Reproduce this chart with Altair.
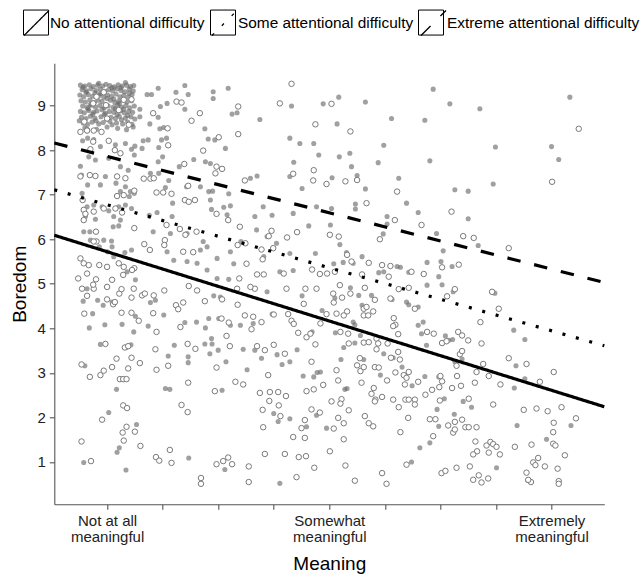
import altair as alt
import pandas as pd

# ---------------- data ----------------
groups = ["No attentional difficulty", "Some attentional difficulty", "Extreme attentional difficulty"]
box_keys = ["box1", "box2", "box3"]
line_x = [0.05, 9.95]
line_y_none = [6.09, 2.24]
line_y_some = [7.11, 3.61]
line_y_extreme = [8.16, 5.03]

x_ticks = [1, 2, 3, 4, 5, 6, 7, 8, 9]
x_tick_labels = {1: ["Not at all", "meaningful"], 5: ["Somewhat", "meaningful"], 9: ["Extremely", "meaningful"]}
y_ticks = [1, 2, 3, 4, 5, 6, 7, 8, 9]

# filled (grey dots)
filled_cluster = [
    (0.52, 9.46), (0.60, 9.44), (0.68, 9.47), (0.75, 9.43), (0.83, 9.46), (0.92, 9.44), (0.98, 9.48), (1.05, 9.45),
    (1.13, 9.42), (1.20, 9.47), (1.27, 9.44), (1.35, 9.46), (1.42, 9.43), (1.48, 9.45),
    (0.55, 9.36), (0.63, 9.33), (0.71, 9.38), (0.80, 9.34), (0.88, 9.37), (0.96, 9.32), (1.03, 9.36), (1.10, 9.33),
    (1.18, 9.38), (1.25, 9.34), (1.32, 9.31), (1.40, 9.37), (1.47, 9.33),
    (0.51, 9.24), (0.58, 9.20), (0.66, 9.25), (0.74, 9.21), (0.86, 9.23), (0.94, 9.19), (1.01, 9.24), (1.08, 9.21),
    (1.16, 9.26), (1.23, 9.20), (1.30, 9.23), (1.38, 9.19), (1.45, 9.25),
    (0.53, 9.11), (0.61, 9.08), (0.69, 9.13), (0.77, 9.07), (0.84, 9.12), (0.91, 9.09), (1.06, 9.12), (1.14, 9.07),
    (1.21, 9.10), (1.29, 9.13), (1.36, 9.08), (1.44, 9.11),
    (0.56, 8.99), (0.64, 8.96), (0.72, 9.01), (0.79, 8.97), (0.87, 9.00), (0.95, 8.95), (1.02, 8.99), (1.11, 8.96),
    (1.19, 9.01), (1.26, 8.97), (1.34, 9.00), (1.41, 8.95), (1.49, 8.99),
    (0.52, 8.87), (0.59, 8.84), (0.67, 8.89), (0.76, 8.85), (0.82, 8.88), (0.97, 8.83), (1.04, 8.87), (1.12, 8.85),
    (1.24, 8.88), (1.31, 8.84), (1.39, 8.87), (1.46, 8.85),
    (0.54, 8.74), (0.62, 8.71), (0.70, 8.76), (0.78, 8.72), (0.89, 8.75), (0.99, 8.70), (1.07, 8.74), (1.15, 8.71),
    (1.22, 8.76), (1.33, 8.72), (1.43, 8.75),
    (0.57, 8.61), (0.65, 8.58), (0.73, 8.63), (0.85, 8.59), (0.93, 8.62), (1.09, 8.57), (1.17, 8.61), (1.28, 8.59),
    (1.37, 8.63), (1.45, 8.58),
    (0.60, 8.50), (0.81, 8.47), (1.00, 8.52), (1.19, 8.49), (1.35, 8.46), (1.47, 8.52),
    (0.88, 9.27), (1.12, 9.15), (0.70, 9.03), (1.30, 8.92), (0.95, 8.80), (1.40, 9.28), (0.62, 9.30), (1.18, 8.80),
    (0.80, 8.66), (1.25, 9.40), (1.59, 8.92),
    (0.57, 9.41), (0.78, 9.29), (1.00, 9.16), (1.22, 9.05), (0.66, 8.93), (0.91, 8.91), (1.15, 8.93), (1.37, 8.78),
    (0.74, 8.81), (1.05, 8.65), (1.26, 8.68), (0.50, 8.66), (1.50, 8.70), (1.09, 9.40), (0.85, 9.50), (1.33, 9.52),
]
filled_upper = [
    (1.72, 9.25), (1.80, 9.25), (1.92, 9.39), (2.40, 9.45), (2.24, 9.30), (2.46, 9.25), (2.91, 9.31), (2.91, 9.16),
    (3.18, 9.39), (1.96, 8.98), (2.08, 9.05), (2.40, 8.92), (3.25, 8.81), (3.34, 8.84), (3.75, 8.69), (4.32, 8.99),
    (4.89, 9.04), (1.59, 8.75), (1.92, 8.74), (1.77, 8.59), (2.02, 8.51), (1.95, 8.48), (2.76, 8.48), (2.82, 8.25),
    (2.94, 8.23), (3.13, 8.04), (4.29, 8.27), (4.47, 8.15), (4.72, 8.15), (4.81, 7.89), (4.36, 7.73), (1.65, 8.21),
    (1.74, 8.23), (1.98, 8.23), (2.07, 8.27), (1.93, 8.06), (1.50, 8.09), (1.63, 8.04), (1.49, 7.89), (1.92, 7.74),
    (2.00, 7.85), (2.30, 7.63), (2.56, 7.79), (2.77, 7.74), (2.86, 7.70), (1.78, 7.48), (1.93, 7.48), (2.11, 7.32),
    (2.05, 7.16), (2.43, 7.18), (2.68, 7.18), (2.83, 7.07), (2.90, 7.08), (3.19, 7.02), (3.58, 7.37), (3.70, 7.42),
    (3.81, 6.73), (3.97, 6.54), (4.35, 6.58), (4.51, 7.14), (4.29, 7.41), (4.77, 6.73), (4.63, 6.30), (2.86, 6.88),
    (2.88, 6.67), (3.10, 6.72), (3.22, 6.75), (3.16, 6.55), (3.66, 6.51), (1.90, 6.60), (2.18, 6.81), (2.17, 6.51),
    (1.76, 6.54), (1.21, 6.30), (1.11, 6.28), (1.83, 6.17), (2.14, 6.13), (2.44, 6.13), (2.73, 5.95), (2.68, 5.76),
    (2.80, 5.83), (3.22, 5.72), (3.41, 5.95), (3.69, 6.21), (3.88, 6.06), (4.05, 5.91), (4.29, 5.68), (4.75, 5.68),
    (2.08, 5.72), (2.20, 5.53), (2.44, 5.50), (2.62, 5.46), (2.98, 5.57), (3.28, 5.45), (3.82, 5.61), (4.11, 5.27),
    (4.35, 5.30), (1.44, 5.76), (1.32, 5.70), (1.08, 5.96), (0.69, 6.17), (0.58, 6.17), (1.36, 5.27), (1.51, 5.09),
    (2.80, 5.31), (2.98, 5.12), (3.19, 5.10),
    (0.56, 8.21), (0.65, 8.27), (0.76, 8.24), (0.88, 8.08), (1.15, 8.12), (1.33, 8.15), (1.44, 8.02), (0.67, 7.85),
    (0.79, 7.78), (1.03, 7.82), (1.24, 7.63), (1.38, 7.55), (0.52, 7.64), (0.54, 7.44), (0.65, 7.22), (0.88, 7.22),
    (0.97, 7.41), (1.16, 7.26), (1.33, 7.18), (1.42, 7.07), (1.49, 7.03), (1.40, 6.96), (1.24, 7.07), (0.55, 7.03),
    (0.64, 6.73), (0.76, 6.77), (0.91, 6.73), (1.03, 6.64), (1.21, 6.73), (1.33, 6.77), (1.44, 6.69), (0.61, 6.51),
    (0.79, 6.45), (1.12, 6.51), (1.24, 6.43), (0.70, 5.98), (0.94, 5.98), (1.09, 5.83), (0.86, 5.83), (1.01, 5.72),
    (1.12, 5.61),
    (5.17, 9.19), (5.65, 9.08), (6.87, 9.37), (7.17, 9.04), (7.71, 8.93), (9.33, 9.19), (5.14, 8.59), (6.12, 8.71),
    (6.72, 8.67), (5.98, 8.11), (5.18, 7.85), (5.37, 7.93), (5.40, 7.63), (5.88, 7.72), (6.81, 7.76), (7.99, 8.07),
    (9.00, 8.08), (9.13, 7.79), (5.05, 7.38), (5.50, 7.43), (5.65, 7.13), (6.25, 7.37), (7.26, 7.11), (7.50, 7.08),
    (7.95, 7.24), (5.47, 6.79), (5.47, 6.68), (6.39, 6.81), (6.60, 6.60), (7.50, 6.46), (5.04, 6.69), (5.02, 6.32),
    (6.04, 6.51), (6.04, 6.34), (5.97, 6.12), (6.93, 6.13), (5.19, 5.88), (5.31, 5.70), (5.59, 5.61), (7.05, 5.74),
    (7.68, 5.86), (6.76, 5.48), (7.01, 5.50), (7.21, 5.39), (5.25, 5.48), (5.08, 5.45), (5.43, 5.46), (5.89, 5.25),
    (5.98, 5.27), (6.22, 5.39), (6.28, 5.37), (6.43, 5.26), (6.97, 5.16),
]
filled_lower = [
    (0.57, 4.61), (0.74, 4.33), (0.68, 4.01), (0.96, 4.08), (1.27, 4.09), (1.51, 4.27), (1.48, 3.92), (1.74, 4.05),
    (2.02, 4.30), (1.87, 4.63), (1.78, 4.58), (0.88, 3.64), (1.34, 3.57), (1.43, 3.63), (2.21, 3.62), (2.10, 3.38),
    (2.46, 3.36), (2.46, 3.23), (2.40, 4.13), (2.61, 4.14), (2.77, 4.01), (2.76, 3.65), (2.89, 3.65), (2.88, 3.77),
    (2.85, 3.43), (3.00, 3.51), (3.14, 3.25), (0.60, 3.16), (1.17, 2.63), (2.05, 2.65), (2.13, 2.63), (3.07, 2.61),
    (1.03, 2.11), (1.53, 1.84), (1.18, 1.22), (1.22, 1.32), (0.58, 0.99), (1.34, 0.82), (2.47, 1.09), (3.12, 0.83),
    (4.11, 0.52), (2.92, 4.73), (3.04, 4.70), (2.83, 4.22), (3.01, 4.22), (3.22, 4.07), (3.40, 4.07), (3.45, 3.53),
    (3.52, 3.07), (3.66, 3.51), (3.63, 4.11), (3.78, 3.33), (3.88, 4.82), (3.97, 4.32), (4.06, 3.41), (4.15, 3.19),
    (4.29, 3.25), (4.42, 3.52), (4.53, 2.93), (4.72, 2.91), (4.78, 3.01), (4.84, 3.02), (4.00, 2.09), (4.08, 1.91),
    (4.29, 1.97), (4.59, 1.79), (4.95, 1.76), (4.77, 2.05), (4.51, 4.73), (4.69, 3.92), (4.87, 4.40), (0.83, 4.63),
    (0.93, 4.52), (1.09, 4.59), (0.64, 4.89),
    (5.38, 4.91), (5.53, 4.74), (5.76, 4.74), (5.10, 4.68), (5.59, 4.52), (6.13, 4.65), (6.39, 4.59), (6.43, 4.53),
    (6.60, 4.48), (6.76, 4.97), (7.03, 4.98), (7.23, 4.82), (7.98, 4.79), (5.43, 4.14), (5.46, 4.08), (5.11, 3.90),
    (5.26, 3.57), (5.46, 3.67), (5.56, 3.84), (5.98, 3.43), (6.15, 3.34), (6.31, 3.13), (5.92, 2.95), (6.60, 4.07),
    (6.69, 4.14), (6.66, 3.88), (6.75, 3.62), (7.09, 3.83), (7.15, 3.73), (7.22, 3.75), (7.39, 3.31), (7.26, 3.25),
    (6.72, 2.92), (6.49, 2.71), (6.97, 2.91), (5.28, 2.63), (5.32, 2.65), (5.21, 3.30), (5.62, 3.30), (8.32, 3.96),
    (8.52, 3.75), (8.36, 3.16), (8.52, 2.87), (8.33, 2.66), (6.94, 2.18), (7.07, 2.42), (7.41, 2.36), (7.56, 2.23),
    (7.25, 2.07), (6.97, 1.80), (6.81, 1.43), (6.63, 1.32), (6.48, 1.00), (8.38, 1.82), (8.91, 1.51), (9.35, 1.82),
    (8.01, 0.87), (8.57, 0.59),
]

# open circles
open_pts = [
    (0.94, 9.30), (0.81, 9.20), (1.44, 9.14), (0.75, 9.05), (0.98, 9.01), (1.30, 9.13), (0.64, 8.45), (1.00, 8.71),
    (1.21, 8.90), (0.59, 8.64), (1.39, 8.57),
    (4.32, 9.49), (4.11, 9.05), (3.36, 8.98), (2.25, 9.09), (2.34, 9.07), (1.83, 8.83), (2.52, 8.66), (2.67, 8.83),
    (2.09, 8.49), (3.01, 8.29), (3.36, 8.36), (4.75, 8.58), (2.10, 8.11), (2.73, 7.99), (2.39, 7.69), (2.97, 7.63),
    (3.07, 7.58), (2.95, 7.48), (1.66, 7.36), (1.78, 7.36), (1.84, 7.37), (2.46, 7.20), (3.48, 7.32), (4.35, 7.47),
    (4.72, 7.55), (4.71, 7.32), (4.95, 7.24), (1.89, 7.05), (2.01, 7.05), (2.16, 7.02), (2.40, 6.88), (2.47, 6.84),
    (2.58, 6.88), (2.97, 6.57), (3.18, 6.43), (3.39, 6.28), (3.96, 6.19), (3.91, 6.07), (4.24, 6.04), (4.42, 6.16),
    (1.49, 6.25), (2.07, 6.32), (2.31, 6.23), (2.41, 6.10), (2.61, 6.17), (2.04, 5.98), (2.03, 5.87), (1.67, 5.89),
    (1.77, 5.76), (2.37, 5.72), (2.55, 5.71), (3.35, 5.87), (3.49, 5.91), (3.78, 5.77), (3.99, 5.80), (3.80, 5.55),
    (3.51, 5.45), (3.82, 5.21), (3.70, 5.21), (4.18, 5.23), (4.69, 5.32), (4.83, 5.22), (4.96, 5.23), (0.80, 6.17),
    (0.81, 5.95), (0.52, 5.57), (0.58, 5.46), (0.67, 5.42), (0.86, 5.42), (1.00, 5.38), (1.21, 5.46), (1.30, 5.38),
    (1.49, 5.35), (0.48, 5.12), (0.64, 5.23), (0.80, 5.10), (1.09, 5.09), (1.29, 5.20), (1.45, 5.31), (3.38, 5.12),
    (0.52, 8.41), (0.64, 8.44), (0.76, 8.44), (0.90, 8.41), (1.03, 8.21), (0.75, 8.19), (0.70, 8.02), (1.14, 8.00),
    (1.24, 7.93), (0.52, 7.41), (0.69, 7.44), (0.79, 7.42), (1.18, 7.41), (1.33, 7.37), (0.56, 6.88), (0.58, 6.66),
    (0.61, 6.57), (0.58, 6.43), (0.76, 6.62), (1.18, 6.97), (1.30, 6.99), (1.49, 7.09), (0.94, 6.69), (1.15, 6.69),
    (1.27, 6.60), (0.76, 5.95),
    (5.04, 9.04), (5.38, 8.42), (9.49, 8.48), (5.29, 7.30), (5.50, 7.33), (6.22, 7.07), (5.67, 6.81), (7.20, 6.62),
    (9.01, 7.29), (6.18, 6.43), (6.66, 6.32), (7.41, 6.07), (7.60, 6.03), (5.91, 6.00), (5.17, 6.06), (5.01, 6.10),
    (8.23, 5.80), (5.32, 5.65), (5.40, 5.50), (5.71, 5.47), (5.95, 5.42), (6.10, 5.40), (6.48, 5.27), (6.70, 5.22),
    (7.03, 5.37), (7.33, 5.43), (5.59, 5.21), (5.10, 5.27), (6.07, 5.16),
    (0.59, 4.33), (1.26, 4.35), (1.44, 4.35), (1.57, 4.17), (1.83, 4.34), (1.89, 3.92), (0.97, 3.65), (1.32, 3.57),
    (1.38, 3.60), (1.44, 3.34), (1.17, 3.32), (1.59, 3.22), (0.54, 3.19), (0.69, 2.91), (0.88, 2.95), (0.94, 3.05),
    (1.09, 3.13), (1.38, 3.10), (1.23, 2.86), (1.29, 2.86), (1.35, 2.86), (1.87, 3.53), (1.89, 3.07), (2.10, 3.16),
    (2.45, 3.65), (2.59, 3.54), (2.32, 4.03), (2.46, 2.78), (1.29, 2.27), (1.36, 2.21), (0.91, 1.95), (1.35, 1.79),
    (1.50, 1.68), (1.28, 1.66), (1.30, 1.48), (1.60, 1.36), (0.54, 1.46), (0.71, 1.02), (1.88, 1.11), (1.94, 1.03),
    (2.13, 1.27), (2.16, 0.98), (2.34, 2.28), (2.45, 2.12), (2.69, 0.64), (2.69, 0.51), (2.97, 0.95), (3.09, 1.02),
    (3.18, 1.10), (3.25, 0.95), (2.94, 2.59), (2.97, 3.12), (3.31, 2.80), (3.45, 2.74), (3.15, 3.83), (3.21, 3.60),
    (3.19, 4.13), (3.06, 4.22), (3.35, 4.53), (3.48, 4.29), (3.60, 3.98), (3.63, 4.26), (3.78, 4.14), (3.70, 3.60),
    (3.84, 3.51), (4.00, 3.63), (4.20, 3.43), (3.90, 2.95), (3.75, 2.55), (3.93, 2.57), (4.08, 2.57), (4.22, 2.48),
    (3.92, 2.37), (4.09, 2.27), (4.12, 2.03), (3.80, 2.17), (3.81, 1.78), (4.35, 1.56), (4.56, 1.54), (4.50, 1.76),
    (4.56, 1.94), (4.68, 2.18), (4.83, 2.11), (3.84, 1.18), (4.20, 1.18), (4.45, 1.11), (4.58, 1.13), (4.73, 0.87),
    (4.41, 0.66), (3.55, 0.90), (3.55, 0.55), (4.59, 2.59), (4.72, 2.63), (4.89, 2.73), (4.68, 3.25), (4.75, 3.64),
    (4.59, 3.80), (4.66, 3.88), (4.44, 3.90), (4.32, 4.17), (4.36, 4.10), (4.26, 4.32), (4.54, 4.55), (4.95, 4.32),
    (4.84, 4.11), (4.00, 4.31), (4.23, 4.89), (4.57, 4.89), (4.77, 4.89), (3.66, 4.89), (3.58, 4.93), (3.34, 4.89),
    (3.07, 4.65), (2.76, 4.61), (2.62, 4.85), (2.47, 4.95), (2.24, 4.52), (2.28, 4.43), (2.37, 4.58), (2.03, 4.85),
    (1.84, 4.74), (1.63, 4.74), (1.68, 4.78), (1.44, 4.69), (1.48, 4.89), (1.22, 4.78), (1.26, 4.88), (1.11, 4.54),
    (1.14, 4.59), (1.00, 4.65), (1.00, 4.93), (0.76, 4.89), (0.75, 4.98), (0.55, 4.89), (0.64, 4.73),
    (5.19, 4.97), (5.64, 4.91), (5.07, 4.78), (5.08, 4.58), (5.23, 4.69), (5.38, 4.78), (5.32, 4.38), (5.26, 4.29),
    (5.13, 4.33), (5.62, 4.44), (5.67, 4.48), (5.79, 4.38), (5.62, 4.29), (5.70, 4.29), (5.82, 4.64), (6.10, 4.67),
    (6.25, 4.88), (6.43, 4.91), (7.12, 4.72), (7.26, 4.88), (7.93, 4.82), (8.05, 4.44), (7.72, 4.14), (6.16, 4.23),
    (6.19, 4.08), (6.15, 4.05), (6.24, 3.87), (6.54, 4.44), (6.76, 3.92), (6.88, 3.88), (7.32, 3.92), (7.39, 3.84),
    (7.50, 3.73), (7.74, 3.66), (7.03, 3.67), (7.11, 3.71), (5.34, 3.88), (5.20, 3.92), (5.35, 3.66), (5.62, 3.68),
    (5.71, 3.69), (5.85, 3.77), (5.88, 3.66), (6.05, 3.66), (5.85, 3.53), (6.24, 3.47), (6.11, 3.34), (6.27, 3.30),
    (5.55, 3.33), (5.50, 3.17), (5.56, 3.04), (5.62, 3.13), (5.82, 3.13), (5.89, 3.12), (5.13, 3.06), (5.16, 2.83),
    (5.58, 2.78), (6.04, 2.83), (6.19, 3.01), (6.34, 2.95), (6.43, 3.02), (6.39, 2.89), (6.36, 2.74), (6.60, 2.80),
    (5.80, 2.66), (5.76, 2.53), (5.83, 2.40), (5.82, 2.36), (5.95, 2.46), (6.15, 2.40), (6.37, 2.40), (6.43, 2.40),
    (6.54, 2.40), (6.54, 2.29), (6.25, 2.23), (6.73, 2.51), (6.85, 2.62), (6.98, 2.68), (7.03, 2.81), (7.00, 2.93),
    (7.21, 2.66), (7.37, 2.71), (7.30, 2.93), (7.29, 3.16), (7.35, 3.42), (7.39, 3.49), (7.65, 3.02), (7.77, 3.20),
    (7.87, 2.93), (8.08, 2.74), (8.23, 3.33), (8.55, 3.20), (8.79, 2.80), (9.04, 3.02), (7.62, 2.78), (6.99, 2.38),
    (7.51, 2.42), (7.95, 2.29), (5.04, 2.36), (5.22, 2.41), (5.20, 2.31), (5.35, 2.16), (5.16, 1.99), (5.26, 1.87),
    (5.08, 1.75), (5.64, 2.03), (5.71, 1.87), (5.79, 1.80), (6.42, 1.99), (6.28, 1.67), (5.26, 1.51), (5.01, 1.24),
    (6.81, 1.96), (6.91, 1.96), (7.14, 1.82), (7.26, 1.90), (7.23, 1.66), (7.26, 1.73), (7.39, 1.95), (7.45, 1.78),
    (7.51, 1.78), (7.65, 1.78), (6.87, 1.58), (7.63, 1.46), (7.83, 1.37), (7.90, 1.45), (7.95, 1.40), (8.01, 1.34),
    (7.87, 1.21), (8.07, 1.17), (7.66, 1.24), (7.59, 1.17), (8.34, 1.34), (8.64, 1.39), (8.76, 1.09), (8.67, 0.99),
    (8.71, 0.93), (8.88, 0.90), (9.03, 1.41), (9.07, 1.37), (9.03, 1.67), (9.04, 1.88), (8.50, 2.17), (8.73, 2.20),
    (8.93, 2.14), (9.18, 2.23), (9.44, 1.98), (9.24, 1.15), (9.11, 0.85), (9.13, 0.57), (9.13, 0.51), (8.63, 0.55),
    (8.58, 0.60), (8.55, 0.76), (7.53, 0.90), (7.29, 0.87), (7.02, 0.75), (7.09, 0.80), (7.59, 0.60), (7.69, 0.70),
    (7.74, 0.54), (7.86, 0.63), (6.39, 0.94), (5.95, 0.75), (6.03, 0.51), (5.46, 0.58), (5.29, 0.92),
]

# ---------------- tables ----------------
filled_all = filled_cluster + filled_upper + filled_lower
fdf = pd.DataFrame(filled_all, columns=["x", "y"])
odf = pd.DataFrame(open_pts, columns=["x", "y"])
line_rows = []
for g, b, ys in zip(groups, box_keys, [line_y_none, line_y_some, line_y_extreme]):
    for xv, yv in zip(line_x, ys):
        line_rows.append({"x": xv, "y": yv, "group": g, "box": b})
ldf = pd.DataFrame(line_rows)

label_expr = " : ".join(
    f"datum.value == {k} ? {v!r}" for k, v in x_tick_labels.items()
) + " : ''"
box_label_expr = " : ".join(f"datum.label == {b!r} ? {g!r}" for b, g in zip(box_keys, groups)) + " : ''"

FONT = "Liberation Sans"
xs = alt.Scale(domain=[0.05, 9.95], nice=False, zero=False)
ys_ = alt.Scale(domain=[0.05, 9.95], nice=False, zero=False)
X = alt.X("x:Q", scale=xs, axis=alt.Axis(values=x_ticks, labelExpr=label_expr, title="Meaning",
                                         labelLineHeight=16, labelPadding=4, titlePadding=10))
Y = alt.Y("y:Q", scale=ys_, axis=alt.Axis(values=y_ticks, title="Boredom", labelPadding=4, titlePadding=7))

filled = alt.Chart(fdf).mark_circle(size=26, color="#666666", opacity=0.62).encode(x=X, y=Y)
opened = alt.Chart(odf).mark_point(shape="circle", filled=True, fill="white", stroke="#7a7a7a",
                                    strokeWidth=1, size=30, opacity=1).encode(x=X, y=Y)

common_leg = dict(title=None, orient="none", legendX=-31.3, legendY=-54, direction="horizontal",
                  symbolSize=625, labelFont=FONT, labelFontSize=15.4, labelOffset=0,
                  columnPadding=4, padding=0, labelLimit=400)

lines = alt.Chart(ldf).mark_line(strokeWidth=3.2).encode(
    x=X, y=Y,
    strokeDash=alt.StrokeDash("group:N", scale=alt.Scale(domain=groups, range=[[1, 0], [3, 10.9], [13.5, 14]]),
                              legend=alt.Legend(symbolType="M-1,1L1,-1", symbolStrokeWidth=1.3,
                                                symbolStrokeColor="black", labelColor="black", **common_leg)),
    color=alt.Color("box:N", scale=alt.Scale(domain=box_keys, range=["black", "black", "black"]),
                    legend=alt.Legend(symbolType="M-1,-1H1V1H-1Z", symbolStrokeWidth=1,
                                      symbolFillColor="transparent", labelExpr=box_label_expr,
                                      labelOpacity=0, **common_leg)),
)

chart = alt.layer(filled, opened, lines).properties(
    width=550, height=441,
    autosize=alt.AutoSizeParams(type="none"),
    padding={"left": 54.3, "top": 63.3, "right": 39.7, "bottom": 70.7},
).configure_view(stroke=None).configure_axis(
    grid=False, domainColor="#555555", tickColor="#555555", domainWidth=1.1, tickWidth=1.1, tickSize=5,
    labelFont=FONT, labelFontSize=15, labelColor="#222222", titleFont=FONT, titleFontSize=19,
    titleFontWeight="normal", titleColor="black",
)

chart.save("out.html", embed_options={"renderer": "svg", "actions": False})
